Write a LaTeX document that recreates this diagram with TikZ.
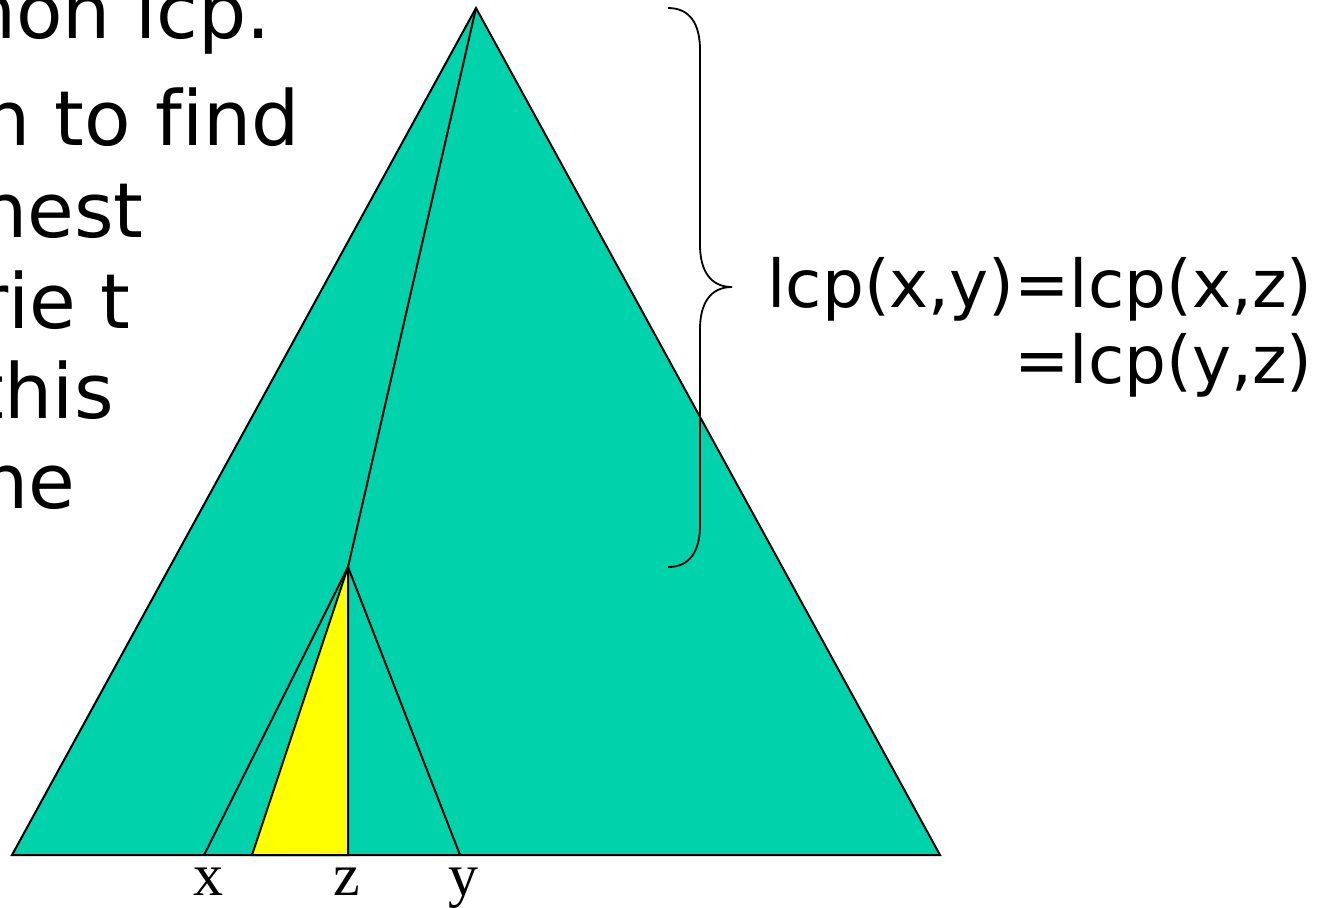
\documentclass[tikz,border=0pt]{standalone}
\usepackage{fontspec}
\setmainfont{DejaVu Sans}[Ligatures=NoCommon]
\newfontfamily\leaffont{Liberation Serif}
\usetikzlibrary{calc}

\definecolor{trieteal}{HTML}{00D2AC}
\definecolor{lcpyellow}{HTML}{FFFF00}

\begin{document}
\begin{tikzpicture}[x=0.5pt, y=-0.5pt,
  edge/.style={draw=black, line width=1pt, line join=miter},
  leaf/.style={font=\fontsize{30}{30}\selectfont\leaffont, inner sep=0pt, anchor=base},
  bodytext/.style={font=\fontsize{38}{38}\selectfont, inner sep=0pt, anchor=base east},
  eqtext/.style={font=\fontsize{33}{33}\selectfont, inner sep=0pt, anchor=base east}]

  \useasboundingbox (0,0) rectangle (1320,907);

  % ---------- Slide text (cut at the left edge) ----------
  \foreach \txt/\xr/\yb [count=\i] in {mon lcp./271/38, n to find/300/145, nest/144/237,
                                       rie t/131/328, this/114/418, ne/76/508}
    \node[bodytext] (body\i) at (\xr,\yb) {\txt};

  % ---------- Trie ----------
  \coordinate (apex)  at (476,8);
  \coordinate (bl)    at (12,855);
  \coordinate (br)    at (940,855);
  \coordinate (split) at (348,567);
  \coordinate (bx)    at (204,855);
  \coordinate (byel)  at (252,855);
  \coordinate (bz)    at (348,855);
  \coordinate (by)    at (460,855);

  \filldraw[fill=trieteal, edge] (bl) -- (apex) -- (br) -- cycle;
  \filldraw[fill=lcpyellow, edge] (byel) -- (split) -- (bz) -- cycle;
  \draw[edge] (apex) -- (split)
              (split) -- (bx)
              (split) -- (by);

  % leaves
  \node[leaf] (lx) at (208,895) {x};
  \node[leaf] (lz) at (347,895) {z};
  \node[leaf] (ly) at (463,895) {y};

  % ---------- Brace (depth of the split) ----------
  \coordinate (btop) at (668,8);
  \coordinate (bbot) at (668,567);
  \coordinate (btip) at (732,287);
  \draw[line width=0.9pt]
    (btop) .. controls (690,8) and (700,24) .. (700,50) -- (700,245)
    .. controls (700,270) and (710,287) .. (btip)
    .. controls (710,287) and (700,304) .. (700,329) -- (700,525)
    .. controls (700,551) and (690,567) .. (bbot);

  \node[eqtext] (eq1) at (1313,307) {lcp(x,y)=lcp(x,z)};
  \node[eqtext] (eq2) at (1313,383) {=lcp(y,z)};

\end{tikzpicture}
\end{document}
